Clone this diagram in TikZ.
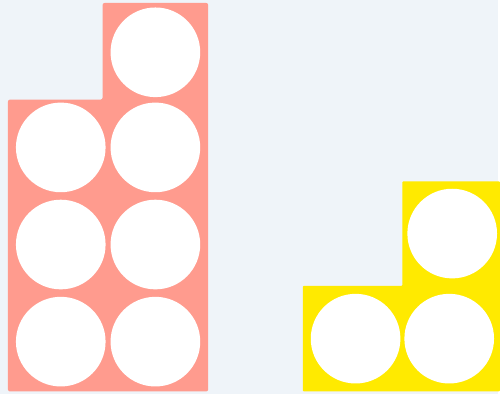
\documentclass[tikz,border=0pt]{standalone}
\definecolor{TilePink}{RGB}{255,155,142}
\definecolor{TileYellow}{RGB}{255,234,0}
\definecolor{PageBlue}{RGB}{239,244,249}

\begin{document}
\begin{tikzpicture}[x=1pt, y=-1pt,
    hole/.style={circle, fill=white, minimum size=90pt, inner sep=0pt}]
                % Background
                \fill[PageBlue] (0,0) rectangle (500,396);
                % Pink tile - seven holes
                \fill[TilePink, rounded corners=2pt] (8,100) -- (103,100) -- (103,3) -- (209,3) -- (209,393) -- (8,393) -- cycle;
                \node[hole] (p1) at (156,52.5) {};
                \node[hole] (p2) at (61,148) {};
                \node[hole] (p3) at (156,148) {};
                \node[hole] (p4) at (61,245.5) {};
                \node[hole] (p5) at (156,245.5) {};
                \node[hole] (p6) at (61,343) {};
                \node[hole] (p7) at (156,343) {};
                % Yellow tile - three holes
                \fill[TileYellow, rounded corners=1pt] (304,287) -- (404,287) -- (404,182) -- (502,182) -- (502,393) -- (304,393) -- cycle;
                \node[hole] (y1) at (454,234.5) {};
                \node[hole] (y2) at (357,340) {};
                \node[hole] (y3) at (451,340) {};
            \end{tikzpicture}
\end{document}
